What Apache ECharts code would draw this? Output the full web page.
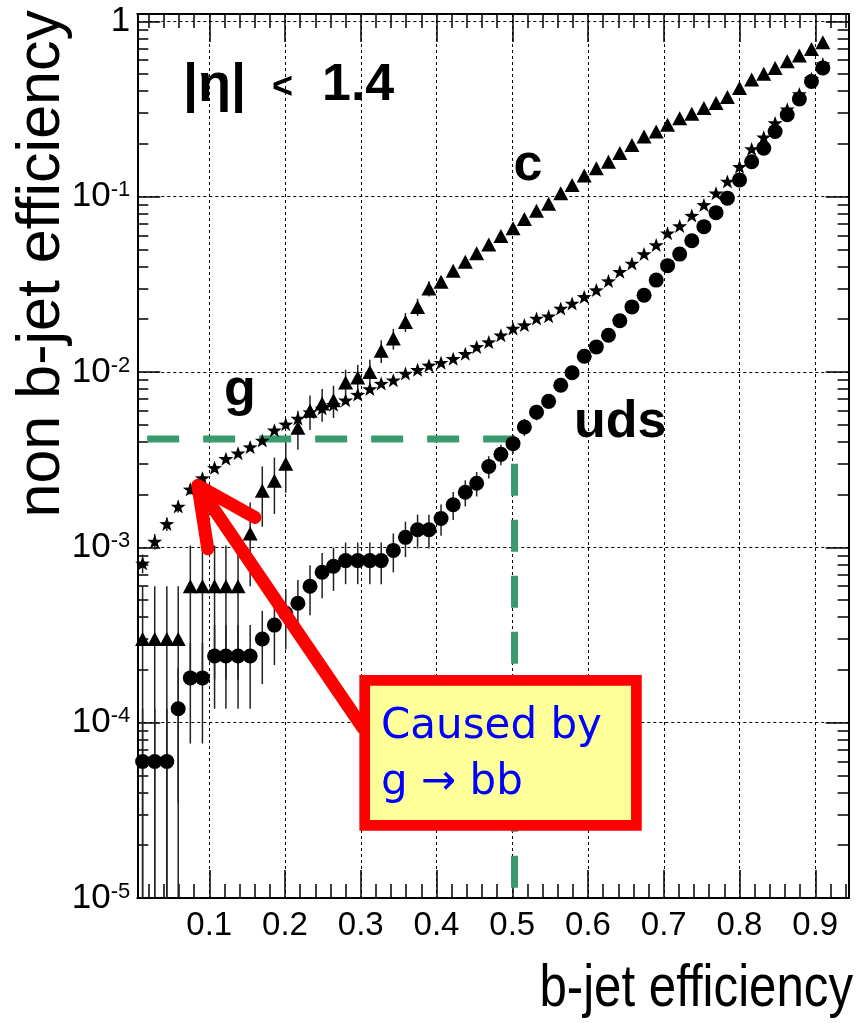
<!DOCTYPE html>
<html>
<head>
<meta charset="utf-8">
<title>non b-jet efficiency vs b-jet efficiency</title>
<script src="https://cdn.jsdelivr.net/npm/echarts@6/dist/echarts.min.js"></script>
<style>
  html, body { margin: 0; padding: 0; background: #fff; }
  #main { width: 857px; height: 1023px; }
</style>
</head>
<body>
<div id="main"></div>
<script>
// b-jet efficiency of each working point (shared by the three curves)
var effB = [0.012, 0.028, 0.044, 0.059, 0.075, 0.091, 0.107, 0.122, 0.138, 0.154,
  0.170, 0.186, 0.201, 0.217, 0.233, 0.249, 0.264, 0.280, 0.296, 0.312,
  0.327, 0.343, 0.359, 0.375, 0.390, 0.406, 0.422, 0.438, 0.453, 0.469,
  0.485, 0.501, 0.516, 0.532, 0.548, 0.564, 0.579, 0.595, 0.611, 0.627,
  0.642, 0.658, 0.674, 0.690, 0.705, 0.721, 0.737, 0.753, 0.769, 0.784,
  0.800, 0.816, 0.832, 0.847, 0.863, 0.879, 0.895, 0.910];

// c jets (triangles)
var cEff = [3e-4, 3e-4, 3e-4, 3e-4, 6e-4, 6e-4, 6e-4, 6e-4, 6e-4, 1.2e-3,
  2.1e-3, 2.4e-3, 3.0e-3, 4.8e-3, 6.0e-3, 6.6e-3, 6.9e-3, 8.7e-3, 9.3e-3, 1.0e-2,
  1.32e-2, 1.55e-2, 1.93e-2, 2.35e-2, 2.99e-2, 3.27e-2, 3.78e-2, 4.25e-2, 4.75e-2, 5.34e-2,
  5.96e-2, 6.6e-2, 7.46e-2, 8.3e-2, 9.1e-2, 0.1045, 0.1166, 0.132, 0.145, 0.158,
  0.177, 0.197, 0.220, 0.235, 0.257, 0.280, 0.297, 0.320, 0.342, 0.370,
  0.416, 0.465, 0.502, 0.542, 0.591, 0.637, 0.695, 0.759];
var cErr = [3e-4, 3e-4, 3e-4, 3e-4, 4.24e-4, 4.24e-4, 4.24e-4, 4.24e-4, 4.24e-4, 6e-4,
  7.9e-4, 8.5e-4, 9.5e-4, 1.2e-3, 1.34e-3, 1.4e-3, 1.44e-3, 1.6e-3, 1.67e-3, 1.72e-3,
  1.97e-3, 2.1e-3, 2.4e-3, 2.65e-3, 3.0e-3, 0, 0, 0, 0, 0,
  0, 0, 0, 0, 0, 0, 0, 0, 0, 0,
  0, 0, 0, 0, 0, 0, 0, 0, 0, 0,
  0, 0, 0, 0, 0, 0, 0, 0];

// gluon jets (stars)
var gEff = [8.1e-4, 1.08e-3, 1.36e-3, 1.71e-3, 2.14e-3, 2.48e-3, 2.84e-3, 3.2e-3, 3.44e-3, 3.73e-3,
  4.07e-3, 4.65e-3, 5.03e-3, 5.43e-3, 5.9e-3, 6.2e-3, 6.5e-3, 6.9e-3, 7.43e-3, 8.0e-3,
  8.59e-3, 8.97e-3, 9.8e-3, 1.03e-2, 1.09e-2, 1.13e-2, 1.19e-2, 1.27e-2, 1.39e-2, 1.48e-2,
  1.62e-2, 1.77e-2, 1.85e-2, 2.02e-2, 2.08e-2, 2.3e-2, 2.46e-2, 2.68e-2, 2.93e-2, 3.3e-2,
  3.73e-2, 4.16e-2, 4.71e-2, 5.3e-2, 6.18e-2, 6.8e-2, 7.8e-2, 8.97e-2, 0.1045, 0.122,
  0.148, 0.187, 0.218, 0.263, 0.315, 0.385, 0.47, 0.57];
var gErr = [1.0e-4, 1.1e-4, 1.2e-4, 1.3e-4, 1.4e-4, 0, 0, 0, 0, 0,
  0, 0, 0, 0, 0, 0, 0, 0, 0, 0,
  0, 0, 0, 0, 0, 0, 0, 0, 0, 0,
  0, 0, 0, 0, 0, 0, 0, 0, 0, 0,
  0, 0, 0, 0, 0, 0, 0, 0, 0, 0,
  0, 0, 0, 0, 0, 0, 0, 0];

// uds jets (circles)
var udsEff = [6e-5, 6e-5, 6e-5, 1.2e-4, 1.8e-4, 1.8e-4, 2.4e-4, 2.4e-4, 2.4e-4, 2.4e-4,
  3.0e-4, 3.6e-4, 4.2e-4, 4.8e-4, 6.0e-4, 7.2e-4, 7.8e-4, 8.4e-4, 8.4e-4, 8.4e-4,
  8.4e-4, 9.6e-4, 1.14e-3, 1.26e-3, 1.26e-3, 1.46e-3, 1.75e-3, 2.06e-3, 2.32e-3, 2.89e-3,
  3.39e-3, 3.9e-3, 4.85e-3, 5.9e-3, 6.8e-3, 8.4e-3, 9.9e-3, 1.23e-2, 1.39e-2, 1.62e-2,
  1.96e-2, 2.35e-2, 2.74e-2, 3.34e-2, 4.04e-2, 4.7e-2, 5.6e-2, 6.74e-2, 8.1e-2, 9.8e-2,
  0.1245, 0.158, 0.189, 0.235, 0.293, 0.360, 0.454, 0.542];
var udsErr = [6e-5, 6e-5, 6e-5, 8.5e-5, 1.04e-4, 1.04e-4, 1.2e-4, 1.2e-4, 1.2e-4, 1.2e-4,
  1.34e-4, 1.47e-4, 1.59e-4, 1.7e-4, 1.9e-4, 2.08e-4, 2.16e-4, 2.24e-4, 2.24e-4, 2.24e-4,
  2.24e-4, 2.4e-4, 2.6e-4, 2.75e-4, 2.75e-4, 2.95e-4, 3.2e-4, 3.5e-4, 3.7e-4, 4.2e-4,
  4.5e-4, 4.8e-4, 5.4e-4, 6e-4, 6.4e-4, 7.1e-4, 0, 0, 0, 0,
  0, 0, 0, 0, 0, 0, 0, 0, 0, 0,
  0, 0, 0, 0, 0, 0, 0, 0];

// working point marked by the green dashed line
var cutEffB = 0.503;
var cutMistag = 4.14e-3;

var xMin = 0.005, xMax = 0.944;
var yMin = 1e-5, yMax = 1.1;

var SANS = '"Liberation Sans", Arial, sans-serif';
var STAR = 'path://M0,-10L2.35,-3.24L9.51,-3.09L3.8,1.24L5.88,8.09L0,4L-5.88,8.09L-3.8,1.24L-9.51,-3.09L-2.35,-3.24Z';

var myChart = echarts.init(document.getElementById('main'));

function pairs(ys) {
  return effB.map(function (x, i) { return [x, ys[i]]; });
}

// vertical error bars, clipped at the bottom of the frame
function errorBars(ys, es) {
  return {
    type: 'custom',
    silent: true,
    clip: true,
    z: 3,
    encode: { x: 0, y: 1 },
    data: effB.map(function (x, i) { return [x, ys[i], es[i]]; }),
    renderItem: function (params, api) {
      var e = api.value(2);
      if (!e) return;
      var x = api.value(0), y = api.value(1);
      var p1 = api.coord([x, Math.max(y - e, yMin)]);
      var p2 = api.coord([x, y + e]);
      return {
        type: 'line',
        shape: { x1: p1[0], y1: p1[1], x2: p2[0], y2: p2[1] },
        style: { stroke: '#222', lineWidth: 1.5 }
      };
    }
  };
}

var tickLine = { color: '#000', width: 1.5 };

var option = {
  animation: false,
  backgroundColor: '#fff',
  grid: { left: 137.3, right: 8.4, top: 14, bottom: 125 },
  xAxis: [{
    type: 'value',
    position: 'bottom',
    min: xMin,
    max: xMax,
    splitNumber: 10,
    axisLine: { lineStyle: { color: '#000', width: 2 } },
    axisTick: { inside: true, length: 28, lineStyle: tickLine },
    minorTick: { show: true, splitNumber: 5, length: 14, lineStyle: tickLine },
    splitLine: { show: true, lineStyle: { color: '#000', width: 1, type: [3, 3] } },
    axisLabel: {
      margin: 11,
      color: '#000',
      fontFamily: SANS,
      fontSize: 33,
      formatter: function (v) {
        var t = Math.round(v * 10);
        return (Math.abs(v * 10 - t) < 1e-6 && t > 0 && t < 10) ? (t / 10).toFixed(1) : '';
      }
    }
  }, {
    type: 'value',
    position: 'top',
    min: xMin,
    max: xMax,
    splitNumber: 10,
    axisLine: { lineStyle: { color: '#000', width: 2 } },
    axisTick: { inside: true, length: 28, lineStyle: tickLine },
    minorTick: { show: true, splitNumber: 5, length: 14, lineStyle: tickLine },
    splitLine: { show: false },
    axisLabel: { show: false }
  }],
  yAxis: [{
    type: 'log',
    logBase: 10,
    position: 'left',
    min: yMin,
    max: yMax,
    axisLine: { lineStyle: { color: '#000', width: 2 } },
    axisTick: { inside: true, length: 23, lineStyle: tickLine },
    minorTick: { show: true, splitNumber: 9, length: 11, lineStyle: tickLine },
    splitLine: { show: true, lineStyle: { color: '#000', width: 1, type: [3, 3] } },
    axisLabel: {
      margin: 7,
      color: '#000',
      formatter: function (v) {
        var l = Math.log(v) / Math.LN10;
        var e = Math.round(l);
        if (Math.abs(l - e) > 1e-6) return '';
        return e === 0 ? '{n|1}' : '{n|10}{s|' + e + '}';
      },
      rich: {
        n: { fontFamily: SANS, fontSize: 35, color: '#000' },
        s: { fontFamily: SANS, fontSize: 22, color: '#000', verticalAlign: 'top' }
      }
    }
  }, {
    type: 'log',
    logBase: 10,
    position: 'right',
    min: yMin,
    max: yMax,
    axisLine: { lineStyle: { color: '#000', width: 2 } },
    axisTick: { inside: true, length: 23, lineStyle: tickLine },
    minorTick: { show: true, splitNumber: 9, length: 11, lineStyle: tickLine },
    splitLine: { show: false },
    axisLabel: { show: false }
  }],
  series: [{
    name: 'cut',
    type: 'line',
    silent: true,
    symbol: 'none',
    z: 2,
    lineStyle: { color: '#3a9a6b', width: 7, type: [32, 24] },
    data: [[0.018, cutMistag], [cutEffB, cutMistag], [cutEffB, 1.07e-5]]
  },
  errorBars(cEff, cErr),
  errorBars(gEff, gErr),
  errorBars(udsEff, udsErr),
  {
    name: 'c',
    type: 'scatter',
    symbol: 'triangle',
    symbolSize: [15, 14],
    itemStyle: { color: '#000', opacity: 1 },
    z: 4,
    data: pairs(cEff)
  }, {
    name: 'g',
    type: 'scatter',
    symbol: STAR,
    symbolSize: [15, 14],
    itemStyle: { color: '#000', opacity: 1 },
    z: 4,
    data: pairs(gEff)
  }, {
    name: 'uds',
    type: 'scatter',
    symbol: 'circle',
    symbolSize: 15,
    itemStyle: { color: '#000', opacity: 1 },
    z: 4,
    data: pairs(udsEff)
  }]
};
myChart.setOption(option);

// annotation arrow, anchored in data coordinates
function px(p) { return myChart.convertToPixel({ xAxisIndex: 0, yAxisIndex: 0 }, p); }
var tip = px([0.085, 2.25e-3]);
var tail = px([0.303, 9.3e-5]);
var wing1 = px([0.1603, 1.48e-3]);
var wing2 = px([0.098, 9.8e-4]);
var red = '#ff0000';

myChart.setOption({
  graphic: [
    // axis titles
    { type: 'text', x: 42, y: 10, rotation: Math.PI / 2, z: 20,
      style: { text: 'non b-jet efficiency', font: '61px ' + SANS, fill: '#000', align: 'right', verticalAlign: 'middle' } },
    { type: 'text', x: 853, y: 989, scaleX: 0.82, z: 20,
      style: { text: 'b-jet efficiency', font: '60px ' + SANS, fill: '#000', align: 'right', verticalAlign: 'middle' } },
    // region label
    { type: 'text', x: 183, y: 86, z: 20,
      style: { text: '|η|', font: 'bold 54px ' + SANS, fill: '#000', verticalAlign: 'middle' } },
    { type: 'text', x: 272, y: 88, z: 20,
      style: { text: '<', font: 'bold 36px ' + SANS, fill: '#000', verticalAlign: 'middle' } },
    { type: 'text', x: 322, y: 86, z: 20,
      style: { text: '1.4', font: 'bold 52px ' + SANS, fill: '#000', verticalAlign: 'middle' } },
    // curve labels
    { type: 'text', x: 528, y: 166, z: 20,
      style: { text: 'c', font: 'bold 52px ' + SANS, fill: '#000', align: 'center', verticalAlign: 'middle' } },
    { type: 'text', x: 240, y: 391, z: 20,
      style: { text: 'g', font: 'bold 52px ' + SANS, fill: '#000', align: 'center', verticalAlign: 'middle' } },
    { type: 'text', x: 574, y: 423, z: 20,
      style: { text: 'uds', font: 'bold 52px ' + SANS, fill: '#000', verticalAlign: 'middle' } },
    // red arrow
    { type: 'line', z: 30, silent: true,
      shape: { x1: tail[0], y1: tail[1], x2: tip[0], y2: tip[1] },
      style: { stroke: red, lineWidth: 13, lineCap: 'round' } },
    { type: 'polyline', z: 30, silent: true,
      shape: { points: [wing1, tip, wing2] },
      style: { stroke: red, lineWidth: 13, lineCap: 'round', lineJoin: 'round', fill: null } },
    // note box
    { type: 'rect', z: 31, silent: true,
      shape: { x: 364.7, y: 680.4, width: 271.7, height: 145 },
      style: { fill: '#ffff99', stroke: red, lineWidth: 10.7 } },
    { type: 'text', x: 381, y: 727, z: 32,
      style: { text: 'Caused by', font: '42px "DejaVu Sans", sans-serif', fill: '#0000ff', verticalAlign: 'middle' } },
    { type: 'text', x: 381, y: 783, z: 32,
      style: { text: 'g → bb', font: '42px "DejaVu Sans", sans-serif', fill: '#0000ff', verticalAlign: 'middle' } }
  ]
});
</script>
</body>
</html>
